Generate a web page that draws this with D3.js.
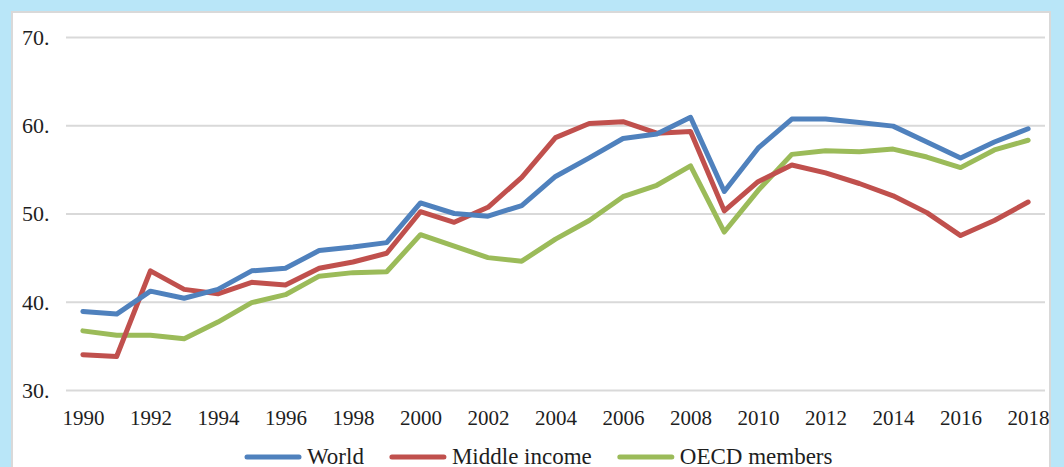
<!DOCTYPE html>
<html>
<head>
<meta charset="utf-8">
<script src="https://cdn.jsdelivr.net/npm/d3@7"></script>
<style>
  html, body { margin: 0; padding: 0; background: #b9e6f8; }
  svg { display: block; }
  text { font-family: "Liberation Serif", "Times New Roman", serif; fill: #1e1e1e; }
</style>
</head>
<body>
<div id="chart"></div>
<script>
var years = d3.range(1990, 2019);
var yTicks = [30, 40, 50, 60, 70];
var world = [38.9, 38.6, 41.2, 40.4, 41.4, 43.5, 43.8, 45.8, 46.2, 46.7,
             51.2, 50.0, 49.7, 50.9, 54.2, 56.3, 58.5, 59.0, 60.9, 52.5,
             57.4, 60.7, 60.7, 60.3, 59.9, 58.1, 56.3, 58.1, 59.6];
var middle = [34.0, 33.8, 43.5, 41.4, 40.9, 42.2, 41.9, 43.8, 44.5, 45.5,
              50.2, 49.0, 50.7, 54.1, 58.6, 60.2, 60.4, 59.1, 59.3, 50.3,
              53.6, 55.5, 54.6, 53.4, 52.0, 50.1, 47.5, 49.2, 51.3];
var oecd = [36.7, 36.2, 36.2, 35.8, 37.7, 39.9, 40.8, 42.9, 43.3, 43.4,
            47.6, 46.3, 45.0, 44.6, 47.1, 49.2, 51.9, 53.2, 55.4, 47.9,
            52.6, 56.7, 57.1, 57.0, 57.3, 56.4, 55.2, 57.2, 58.3];
var seriesNames = ['World', 'Middle income', 'OECD members'];
var seriesColors = ['#4f81bd', '#c0504d', '#9bbb59'];
var seriesValues = [world, middle, oecd];

var width = 1064, height = 467;
var plot = { left: 66, right: 1045, top: 37, bottom: 390 };

var svg = d3.select('#chart')
  .append('svg')
  .attr('width', width)
  .attr('height', height);

// white panel
svg.append('rect')
  .attr('x', 12).attr('y', 12)
  .attr('width', 1038).attr('height', 470)
  .attr('fill', '#fff')
  .attr('stroke', '#d9d9d9')
  .attr('stroke-width', 2);

var x = d3.scalePoint()
  .domain(years)
  .range([plot.left, plot.right])
  .padding(0.5);
var y = d3.scaleLinear()
  .domain([30, 70])
  .range([plot.bottom, plot.top]);

// gridlines
var grid = svg.append('g')
  .attr('transform', 'translate(' + plot.left + ',0)')
  .call(d3.axisLeft(y).tickValues(yTicks).tickSize(-(plot.right - plot.left)).tickFormat(''));
grid.select('.domain').remove();
grid.selectAll('line').attr('stroke', '#d9d9d9').attr('stroke-width', 2);

// y labels
var yAxis = svg.append('g')
  .attr('transform', 'translate(22,0)')
  .call(d3.axisLeft(y).tickValues(yTicks).tickSize(0).tickFormat(function(d) { return d + '.'; }));
yAxis.select('.domain').remove();
yAxis.selectAll('text')
  .attr('x', 0).attr('dy', '0.34em')
  .attr('text-anchor', 'start')
  .style('font-family', '"Liberation Serif", serif')
  .style('font-size', '22px')
  .attr('fill', '#1e1e1e');

// x labels
var xAxis = svg.append('g')
  .attr('transform', 'translate(0,' + plot.bottom + ')')
  .call(d3.axisBottom(x).tickValues(years.filter(function(d) { return d % 2 === 0; })).tickSize(0));
xAxis.select('.domain').remove();
xAxis.selectAll('text')
  .attr('y', 34.5).attr('dy', 0)
  .style('font-family', '"Liberation Serif", serif')
  .style('font-size', '21px')
  .attr('fill', '#1e1e1e');

var line = d3.line()
  .x(function(d, i) { return x(years[i]); })
  .y(function(d) { return y(d); });

// OECD drawn first, world last (on top)
[2, 1, 0].forEach(function(k) {
  svg.append('path')
    .datum(seriesValues[k])
    .attr('fill', 'none')
    .attr('stroke', seriesColors[k])
    .attr('stroke-width', 5)
    .attr('stroke-linejoin', 'round')
    .attr('stroke-linecap', 'round')
    .attr('d', line);
});

// legend
var legend = svg.append('g');
var lx = 245, ly = 457;
seriesNames.forEach(function(name, k) {
  legend.append('line')
    .attr('x1', lx + 2).attr('x2', lx + 54)
    .attr('y1', ly).attr('y2', ly)
    .attr('stroke', seriesColors[k])
    .attr('stroke-width', 5)
    .attr('stroke-linecap', 'round');
  var t = legend.append('text')
    .attr('x', lx + 62).attr('y', ly + 7)
    .style('font-size', '23px')
    .text(name);
  lx += 62 + t.node().getComputedTextLength() + 26;
});
</script>
</body>
</html>
